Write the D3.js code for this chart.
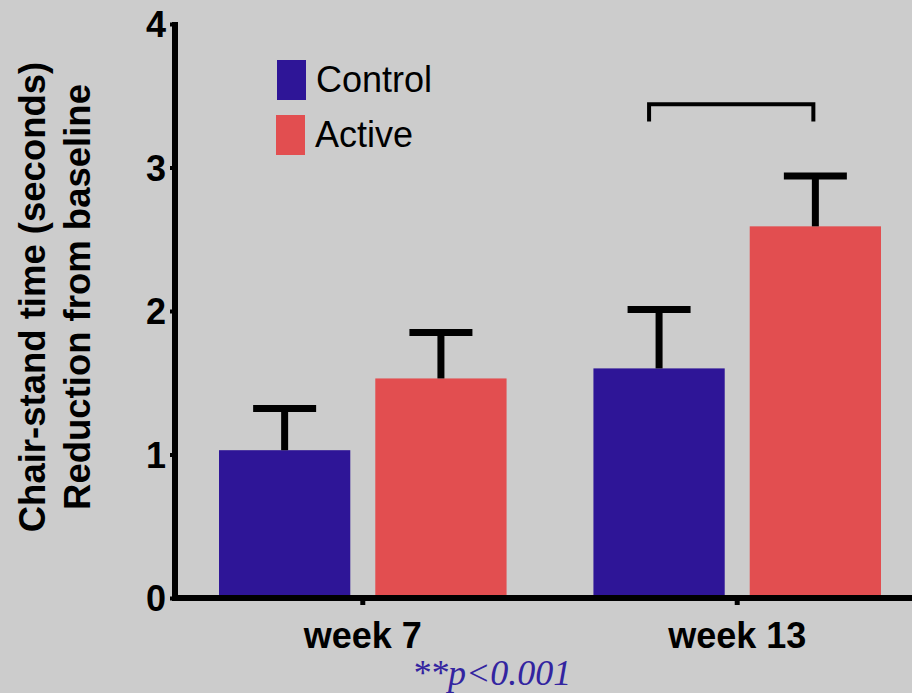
<!DOCTYPE html>
<html>
<head>
<meta charset="utf-8">
<script src="https://cdn.jsdelivr.net/npm/d3@7"></script>
<style>
  html, body { margin: 0; padding: 0; background: #cccccc; }
  svg { display: block; }
  text { font-family: "Liberation Sans", Arial, Helvetica, sans-serif; }
</style>
</head>
<body>
<svg id="chart" width="912" height="693"></svg>
<script>
// data
const groups = ['week 7', 'week 13'];
const series = ['Control', 'Active'];
const controlMeans = [1.03, 1.60];
const activeMeans = [1.53, 2.59];
const controlErr = [1.32, 2.01];   // top of error bar
const activeErr = [1.85, 2.94];
const yTicks = [0, 1, 2, 3, 4];
const colors = ['#2e1597', '#e24e50'];
const pNote = '**p<0.001';

const svg = d3.select('#chart');
svg.append('rect').attr('width', 912).attr('height', 693).attr('fill', '#cccccc');

const y = d3.scaleLinear().domain([0, 4]).range([598, 24]);
const x0 = d3.scaleBand().domain(groups).range([219, 881]).paddingInner(0.232).paddingOuter(0);
const x1 = d3.scaleBand().domain(series).range([0, x0.bandwidth()]).paddingInner(0.16).paddingOuter(0);

const rows = groups.map((g, i) => ({
  group: g,
  vals: [
    { s: 'Control', v: controlMeans[i], e: controlErr[i], c: colors[0] },
    { s: 'Active', v: activeMeans[i], e: activeErr[i], c: colors[1] }
  ]
}));

// bars
const gg = svg.append('g').selectAll('g')
  .data(rows).enter().append('g')
  .attr('transform', d => 'translate(' + x0(d.group) + ',0)');

gg.selectAll('rect')
  .data(d => d.vals).enter().append('rect')
  .attr('x', d => x1(d.s))
  .attr('y', d => y(d.v))
  .attr('width', x1.bandwidth())
  .attr('height', d => y(0) - y(d.v))
  .attr('fill', d => d.c);

// error bars (upper only)
gg.selectAll('line.stem')
  .data(d => d.vals).enter().append('line')
  .attr('class', 'stem')
  .attr('x1', d => x1(d.s) + x1.bandwidth() / 2)
  .attr('x2', d => x1(d.s) + x1.bandwidth() / 2)
  .attr('y1', d => y(d.v))
  .attr('y2', d => y(d.e))
  .attr('stroke', '#000').attr('stroke-width', 7);

gg.selectAll('line.cap')
  .data(d => d.vals).enter().append('line')
  .attr('class', 'cap')
  .attr('x1', d => x1(d.s) + x1.bandwidth() / 2 - 31.5)
  .attr('x2', d => x1(d.s) + x1.bandwidth() / 2 + 31.5)
  .attr('y1', d => y(d.e))
  .attr('y2', d => y(d.e))
  .attr('stroke', '#000').attr('stroke-width', 7);

// significance bracket over week 13
const bx0 = x0('week 13') + x1('Control') + x1.bandwidth() / 2 - 10;
const bx1 = x0('week 13') + x1('Active') + x1.bandwidth() / 2 - 2;
const bTop = y(3.44), bLow = y(3.32);
svg.append('path')
  .attr('d', 'M' + bx0 + ',' + bLow + 'V' + bTop + 'H' + bx1 + 'V' + bLow)
  .attr('fill', 'none').attr('stroke', '#000').attr('stroke-width', 4);

// y axis
const yAxis = svg.append('g')
  .attr('transform', 'translate(175,0)')
  .call(d3.axisLeft(y).tickValues(yTicks).tickFormat(d3.format('d')).tickSize(5).tickSizeOuter(0).tickPadding(4));
yAxis.select('.domain').remove();
yAxis.selectAll('.tick line').attr('stroke', '#000').attr('stroke-width', 4);
yAxis.selectAll('.tick text')
  .attr('fill', '#000')
  .style('font-size', '36px').style('font-weight', 'bold')
  .attr('dy', '0.36em');
yAxis.append('line')
  .attr('x1', 0).attr('x2', 0).attr('y1', 601).attr('y2', 22)
  .attr('stroke', '#000').attr('stroke-width', 6);

// x axis
const xAxis = svg.append('g')
  .attr('transform', 'translate(0,598)')
  .call(d3.axisBottom(x0).tickSize(7).tickSizeOuter(0).tickPadding(17));
xAxis.select('.domain').remove();
xAxis.selectAll('.tick line').attr('stroke', '#000').attr('stroke-width', 5);
xAxis.selectAll('.tick text')
  .attr('fill', '#000')
  .style('font-size', '36px').style('font-weight', 'bold');
xAxis.append('line')
  .attr('x1', 172).attr('x2', 912).attr('y1', 0).attr('y2', 0)
  .attr('stroke', '#000').attr('stroke-width', 6);

// y title
const yt = svg.append('g').attr('transform', 'rotate(-90)');
yt.append('text').attr('x', -297).attr('y', 45).attr('text-anchor', 'middle')
  .style('font-size', '36.5px').style('font-weight', 'bold')
  .text('Chair-stand time (seconds)');
yt.append('text').attr('x', -297).attr('y', 90).attr('text-anchor', 'middle')
  .style('font-size', '36.5px').style('font-weight', 'bold')
  .text('Reduction from baseline');

// legend
const leg = svg.append('g').selectAll('g')
  .data(series).enter().append('g')
  .attr('transform', (d, i) => 'translate(' + (277 - i) + ',' + (60 + i * 55) + ')');
leg.append('rect').attr('width', 29).attr('height', 40).attr('fill', (d, i) => colors[i]);
leg.append('text').attr('x', 39).attr('y', 32)
  .style('font-size', '36px').attr('fill', '#000')
  .text(d => d);

// p-value note
svg.append('text')
  .attr('x', 412).attr('y', 685)
  .style('font-family', '"Liberation Serif", "Times New Roman", serif')
  .style('font-style', 'italic').style('font-size', '36px')
  .attr('fill', '#3324a0')
  .text(pNote);
</script>
</body>
</html>
